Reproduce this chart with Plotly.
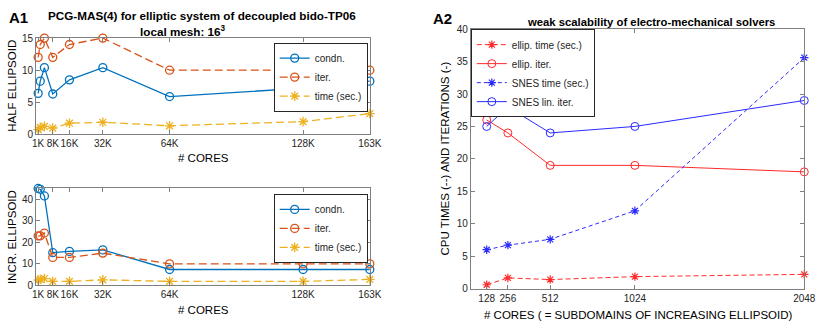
import plotly.graph_objects as go

W, H = 830, 330

# ---------------- data ----------------
cores_k = [1, 2, 4, 8, 16, 32, 64, 128, 160]
left_tickvals = [1, 8, 16, 32, 64, 128, 160]
left_ticktext = ["1K", "8K", "16K", "32K", "64K", "128K", "163K"]

half_condn = [6.4, 8.3, 10.4, 6.3, 8.5, 10.4, 5.9, 7.2, 8.3]
half_iter = [12, 14, 15, 12, 14, 15, 10, 10, 10]
half_time = [0.75, 1.1, 1.25, 1.0, 1.75, 1.9, 1.35, 2.0, 3.25]

incr_condn = [45, 44.6, 41.5, 15.2, 15.8, 16.5, 7.4, 7.4, 7.4]
incr_iter = [23, 23, 24.3, 13, 13, 15, 10, 10, 10]
incr_time = [2.5, 2.8, 3.2, 1.9, 1.9, 2.6, 1.9, 1.9, 2.8]

cores_r = [128, 256, 512, 1024, 2048]
ellip_time = [0.6, 1.65, 1.4, 1.85, 2.2]
ellip_iter = [26, 24, 19, 19, 18]
snes_time = [6.0, 6.7, 7.6, 12.0, 35.6]
snes_iter = [25, 28, 24, 25, 29]

C1, C2, C3 = "#0072BD", "#D95319", "#EDB120"
RED, BLUE = "#ff2a2a", "#2a2aff"
FONT = "Liberation Sans, Arial, sans-serif"
AX = "#262626"

def px(x):
    return x / W

def py(y):
    return 1 - y / H

fig = go.Figure()

def left_traces(xa, ya, cond, it, tm, leg):
    fig.add_trace(go.Scatter(x=cores_k, y=cond, name="condn.", mode="lines+markers", cliponaxis=False,
                             line=dict(color=C1, width=1.3),
                             marker=dict(symbol="circle-open", size=8, color=C1, line=dict(width=1.3)),
                             xaxis=xa, yaxis=ya, legend=leg))
    fig.add_trace(go.Scatter(x=cores_k, y=it, name="iter.", mode="lines+markers", cliponaxis=False,
                             line=dict(color=C2, width=1.3, dash="8px,4px"),
                             marker=dict(symbol="circle-open", size=8, color=C2, line=dict(width=1.3)),
                             xaxis=xa, yaxis=ya, legend=leg))
    fig.add_trace(go.Scatter(x=cores_k, y=tm, name="time (sec.)", mode="lines+markers", cliponaxis=False,
                             line=dict(color=C3, width=1.3, dash="8px,4px"),
                             marker=dict(symbol="asterisk-open", size=8, color=C3, line=dict(width=1.3)),
                             xaxis=xa, yaxis=ya, legend=leg))

left_traces("x", "y", half_condn, half_iter, half_time, "legend")
left_traces("x2", "y2", incr_condn, incr_iter, incr_time, "legend2")

fig.add_trace(go.Scatter(x=cores_r, y=ellip_time, name="ellip. time (sec.)", mode="lines+markers",
                         cliponaxis=False,
                         line=dict(color=RED, width=1, dash="5px,3px"),
                         marker=dict(symbol="asterisk-open", size=7, color=RED, line=dict(width=1.2)),
                         xaxis="x3", yaxis="y3", legend="legend3"))
fig.add_trace(go.Scatter(x=cores_r, y=ellip_iter, name="ellip. iter.", mode="lines+markers",
                         cliponaxis=False,
                         line=dict(color=RED, width=1),
                         marker=dict(symbol="circle-open", size=8, color=RED, line=dict(width=1)),
                         xaxis="x3", yaxis="y3", legend="legend3"))
fig.add_trace(go.Scatter(x=cores_r, y=snes_time, name="SNES time (sec.)", mode="lines+markers",
                         cliponaxis=False,
                         line=dict(color=BLUE, width=1, dash="4px,3px"),
                         marker=dict(symbol="asterisk-open", size=7, color=BLUE, line=dict(width=1.2)),
                         xaxis="x3", yaxis="y3", legend="legend3"))
fig.add_trace(go.Scatter(x=cores_r, y=snes_iter, name="SNES lin. iter.", mode="lines+markers",
                         cliponaxis=False,
                         line=dict(color=BLUE, width=1),
                         marker=dict(symbol="circle-open", size=8, color=BLUE, line=dict(width=1)),
                         xaxis="x3", yaxis="y3", legend="legend3"))

axcommon = dict(showline=True, linecolor="#808080", linewidth=1, mirror="ticks",
                ticks="inside", ticklen=4, tickcolor="#808080", showgrid=False, zeroline=False,
                tickangle=0, tickfont=dict(family=FONT, size=10, color=AX))

xdom_l = [px(32.7), px(373)]
fig.update_layout(
    xaxis=dict(domain=xdom_l, range=[0, 160], tickvals=left_tickvals, ticktext=left_ticktext,
               anchor="y", **axcommon),
    yaxis=dict(domain=[py(133.3), py(33.3)], range=[0, 15], tickvals=[0, 5, 10, 15],
               anchor="x", **axcommon),
    xaxis2=dict(domain=xdom_l, range=[0, 160], tickvals=left_tickvals, ticktext=left_ticktext,
                anchor="y2", **axcommon),
    yaxis2=dict(domain=[py(290), py(189.3)], range=[0, 45], tickvals=[0, 10, 20, 30, 40],
                anchor="x2", **axcommon),
    xaxis3=dict(domain=[px(476), px(816)], range=[32, 2048], tickvals=cores_r,
                anchor="y3", **axcommon),
    yaxis3=dict(domain=[py(293.3), py(24)], range=[0, 40], dtick=5,
                anchor="x3", **axcommon),
)

legstyle = dict(bgcolor="white", bordercolor="#262626", borderwidth=1,
                font=dict(family=FONT, size=10, color=AX), xanchor="left", yanchor="top",
                tracegroupgap=0, itemwidth=30)
fig.update_layout(
    legend=dict(x=px(275), y=py(38), **legstyle),
    legend2=dict(x=px(275), y=py(195), **legstyle),
    legend3=dict(x=px(476), y=py(24), **legstyle),
)

ann = []
def text(x, y, s, size=11.5, bold=False, angle=0, xanchor="center"):
    ann.append(dict(x=px(x), y=py(y), xref="paper", yref="paper", text=(f"<b>{s}</b>" if bold else s),
                    showarrow=False, textangle=angle, xanchor=xanchor, yanchor="middle",
                    font=dict(family=FONT, size=size, color="#000000")))

text(3, 12, "A1", 15, True, xanchor="left")
text(435, 13, "A2", 15, True, xanchor="left")
text(202, 10, "PCG-MAS(4) for elliptic system of decoupled bido-TP06", 11.7, True)
text(183, 26, "local mesh: 16<sup>3</sup>", 11.7, True)
text(660, 17, "weak scalability of electro-mechanical solvers", 11.3, True)
text(203, 158, "# CORES")
text(203, 315, "# CORES")
text(646, 321, "# CORES ( = SUBDOMAINS OF INCREASING ELLIPSOID)")
text(8, 83, "HALF ELLIPSOID", angle=-90)
text(8, 240, "INCR. ELLIPSOID", angle=-90)
text(450, 158, "CPU TIMES (--) AND ITERATIONS (-)", angle=-90)

fig.update_layout(annotations=ann, width=W, height=H, autosize=False,
                  margin=dict(l=0, r=0, t=0, b=0), plot_bgcolor="white", paper_bgcolor="white",
                  font=dict(family=FONT))

fig.write_html("out.html", config={"displayModeBar": False},
               post_script="document.body.style.margin='0';")
